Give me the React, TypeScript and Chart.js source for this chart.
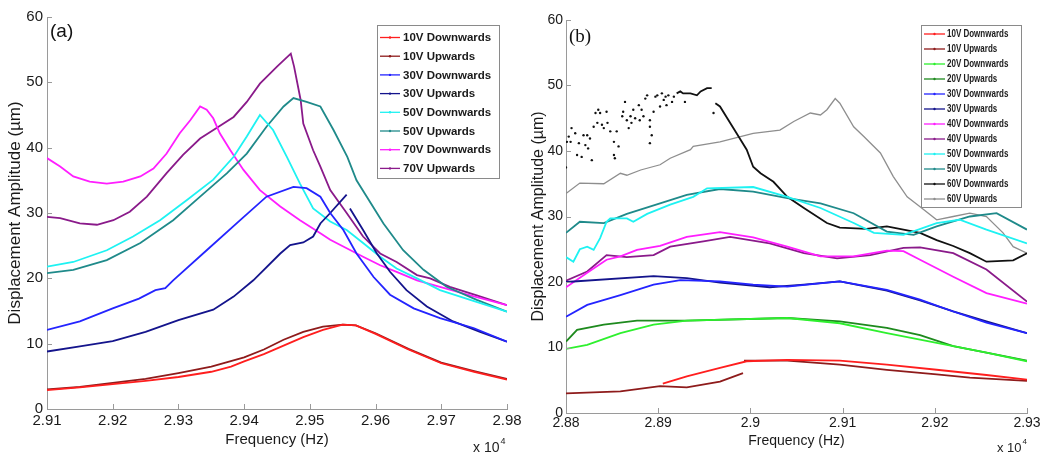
import React, { useEffect, useRef } from "react";
import { Chart, registerables } from "chart.js";

Chart.register(...registerables);

type Pt = [number, number | null];

// ---------------- Panel (a) data (frequency in units of 10^4 Hz, amplitude in µm) ----------------
const aXTicks = [2.91, 2.92, 2.93, 2.94, 2.95, 2.96, 2.97, 2.98];
const yTicks = [0, 10, 20, 30, 40, 50, 60];

const a10Down: Pt[] = [[2.91, 2.9], [2.915, 3.3], [2.92, 3.8], [2.925, 4.3], [2.93, 4.9], [2.935, 5.7], [2.938, 6.5], [2.94, 7.3], [2.943, 8.4], [2.946, 9.7], [2.949, 11.0], [2.952, 12.1], [2.955, 12.9], [2.957, 12.8], [2.96, 11.5], [2.965, 9.1], [2.97, 7.0], [2.975, 5.7], [2.98, 4.5]];
const a10Up: Pt[] = [[2.91, 3.0], [2.915, 3.4], [2.92, 4.0], [2.925, 4.6], [2.93, 5.5], [2.935, 6.5], [2.94, 7.9], [2.943, 9.1], [2.946, 10.6], [2.949, 11.8], [2.952, 12.6], [2.955, 12.9], [2.957, 12.8], [2.96, 11.6], [2.965, 9.2], [2.97, 7.1], [2.975, 5.8], [2.98, 4.6]];
const a30Down: Pt[] = [[2.91, 12.1], [2.915, 13.4], [2.92, 15.4], [2.924, 16.9], [2.9265, 18.2], [2.928, 18.5], [2.9292, 19.7], [2.9343, 24.3], [2.9394, 28.9], [2.9434, 32.5], [2.9475, 34.0], [2.9495, 33.8], [2.9516, 32.5], [2.9531, 30.0], [2.9551, 27.4], [2.9571, 23.8], [2.9597, 20.2], [2.9622, 17.5], [2.9658, 15.4], [2.9698, 13.9], [2.9749, 12.4], [2.98, 10.3]];
const a30Up: Pt[] = [[2.91, 8.8], [2.915, 9.6], [2.92, 10.4], [2.925, 11.8], [2.93, 13.6], [2.9353, 15.2], [2.9384, 17.2], [2.9414, 19.7], [2.9455, 23.8], [2.947, 25.1], [2.949, 25.5], [2.9505, 26.4], [2.9516, 28.4], [2.9531, 30.0], [2.9556, 32.8], [2.9559, null], [2.9561, 30.7], [2.9581, 27.4], [2.9602, 23.8], [2.9622, 21.0], [2.9647, 18.2], [2.9678, 15.7], [2.9718, 13.4], [2.9759, 11.8], [2.98, 10.3]];
const a50Down: Pt[] = [[2.91, 21.8], [2.914, 22.5], [2.9191, 24.3], [2.9231, 26.4], [2.9272, 28.9], [2.9313, 32.0], [2.9353, 35.1], [2.9384, 38.6], [2.9404, 41.7], [2.9424, 45.0], [2.9444, 42.7], [2.9465, 38.6], [2.9485, 34.5], [2.9505, 30.7], [2.9531, 28.7], [2.9556, 27.4], [2.9581, 25.4], [2.9607, 23.3], [2.9632, 21.5], [2.9663, 20.0], [2.9698, 18.2], [2.9744, 16.7], [2.98, 14.9]];
const a50Up: Pt[] = [[2.91, 20.8], [2.914, 21.3], [2.9191, 22.8], [2.9242, 25.4], [2.9292, 28.9], [2.9333, 32.5], [2.9374, 36.1], [2.9404, 39.1], [2.9434, 43.2], [2.946, 46.3], [2.9475, 47.6], [2.9495, 47.0], [2.9516, 46.3], [2.9536, 42.7], [2.9557, 38.6], [2.9571, 35.0], [2.9612, 28.4], [2.9642, 24.3], [2.9673, 21.3], [2.9708, 18.7], [2.9754, 16.7], [2.98, 14.9]];
const a70Down: Pt[] = [[2.91, 38.4], [2.912, 37.1], [2.914, 35.6], [2.9165, 34.8], [2.9191, 34.5], [2.9216, 34.8], [2.9242, 35.6], [2.9262, 36.8], [2.9282, 39.1], [2.9302, 42.2], [2.9318, 44.2], [2.9333, 46.3], [2.9343, 45.8], [2.9353, 44.5], [2.9363, 42.2], [2.9379, 39.6], [2.9399, 36.6], [2.9424, 33.5], [2.9455, 31.0], [2.9485, 28.9], [2.9516, 26.9], [2.9531, 25.9], [2.9556, 24.6], [2.9581, 23.3], [2.9607, 22.0], [2.9632, 21.0], [2.9663, 19.7], [2.9698, 18.7], [2.9744, 17.4], [2.98, 15.9]];
const a70Up: Pt[] = [[2.91, 29.4], [2.912, 29.2], [2.915, 28.4], [2.9176, 28.2], [2.9201, 28.9], [2.9226, 30.2], [2.9252, 32.5], [2.9282, 36.1], [2.9307, 38.9], [2.9333, 41.4], [2.9358, 43.0], [2.9384, 44.7], [2.9404, 47.0], [2.9424, 49.8], [2.945, 52.4], [2.9471, 54.4], [2.9476, 52.4], [2.9486, 47.3], [2.949, 43.7], [2.9505, 39.6], [2.9516, 37.1], [2.9531, 33.5], [2.9556, 30.0], [2.9581, 26.4], [2.9607, 23.8], [2.9632, 22.5], [2.9663, 20.5], [2.9683, 20.0], [2.9713, 18.7], [2.9754, 17.4], [2.98, 15.9]];

// ---------------- Panel (b) data ----------------
const bXTicks = [2.88, 2.89, 2.9, 2.91, 2.92, 2.93];

const b10Down: Pt[] = [[2.8905, 4.5], [2.8931, 5.6], [2.8967, 6.9], [2.8996, 7.9], [2.904, 8.1], [2.9097, 8.0], [2.9148, 7.4], [2.9202, 6.6], [2.9256, 5.8], [2.93, 5.1]];
const b10Up: Pt[] = [[2.88, 3.0], [2.8859, 3.3], [2.8902, 4.1], [2.8931, 3.9], [2.8967, 4.8], [2.8992, 6.1], [2.89925, null], [2.8993, 8.0], [2.904, 8.0], [2.9097, 7.4], [2.9148, 6.6], [2.9202, 5.9], [2.9238, 5.4], [2.93, 4.9]];
const b20Down: Pt[] = [[2.88, 9.8], [2.8823, 10.4], [2.8859, 12.2], [2.8895, 13.5], [2.8931, 14.1], [2.904, 14.5], [2.9097, 13.7], [2.9148, 12.2], [2.9202, 10.7], [2.9256, 9.2], [2.93, 7.9]];
const b20Up: Pt[] = [[2.88, 10.9], [2.8812, 12.7], [2.8841, 13.5], [2.8877, 14.1], [2.8931, 14.1], [2.904, 14.5], [2.9097, 14.0], [2.9148, 13.0], [2.9184, 11.9], [2.922, 10.2], [2.9256, 9.2], [2.93, 8.0]];
const b30Down: Pt[] = [[2.88, 14.7], [2.8823, 16.5], [2.8859, 18.0], [2.8895, 19.6], [2.8924, 20.3], [2.8967, 20.1], [2.9003, 19.6], [2.904, 19.3], [2.9097, 20.1], [2.9148, 18.8], [2.9184, 17.3], [2.922, 15.5], [2.9256, 13.8], [2.93, 12.2]];
const b30Up: Pt[] = [[2.88, 20.0], [2.8895, 20.9], [2.8931, 20.6], [2.8967, 19.9], [2.9021, 19.2], [2.9058, 19.6], [2.9097, 20.1], [2.9148, 18.7], [2.9184, 17.2], [2.922, 15.5], [2.9256, 14.0], [2.93, 12.2]];
const b40Down: Pt[] = [[2.88, 19.2], [2.8823, 21.4], [2.8844, 23.4], [2.8859, 23.9], [2.8877, 24.9], [2.8902, 25.5], [2.8931, 26.9], [2.8967, 27.6], [2.9003, 26.8], [2.904, 25.4], [2.9076, 23.9], [2.9112, 23.9], [2.9148, 24.8], [2.9166, 24.7], [2.9184, 23.4], [2.922, 20.8], [2.9256, 18.3], [2.93, 16.7]];
const b40Up: Pt[] = [[2.88, 20.2], [2.8823, 21.6], [2.8844, 24.1], [2.8866, 23.8], [2.8895, 24.1], [2.8913, 25.4], [2.8949, 26.2], [2.8978, 26.9], [2.9021, 25.9], [2.9058, 24.4], [2.9094, 23.6], [2.913, 24.1], [2.9166, 25.2], [2.9184, 25.3], [2.922, 24.4], [2.9256, 21.9], [2.93, 17.0]];
const b50Down: Pt[] = [[2.88, 23.8], [2.8808, 23.1], [2.8815, 25.0], [2.8823, 25.4], [2.883, 24.9], [2.8837, 26.7], [2.8844, 29.2], [2.8848, 29.7], [2.8866, 29.7], [2.8873, 29.2], [2.8888, 30.4], [2.8913, 31.8], [2.8938, 33.0], [2.8953, 34.3], [2.9003, 34.5], [2.904, 33.0], [2.9076, 31.3], [2.9112, 29.0], [2.9134, 27.5], [2.9166, 27.2], [2.9202, 29.0], [2.9227, 29.5], [2.9256, 28.0], [2.93, 25.9]];
const b50Up: Pt[] = [[2.88, 27.5], [2.8815, 29.2], [2.8841, 29.0], [2.8866, 30.4], [2.8902, 32.0], [2.8931, 33.3], [2.8967, 34.2], [2.9003, 33.8], [2.904, 32.8], [2.9076, 32.0], [2.9112, 30.5], [2.9148, 27.7], [2.9177, 27.2], [2.9202, 28.5], [2.9238, 30.0], [2.9267, 30.5], [2.93, 28.0]];
const b60DownDots: Pt[] = [[2.88, 37.5], [2.8801, 41.4], [2.8803, 42.2], [2.8805, 41.4], [2.8806, 43.5], [2.881, 42.7], [2.8812, 39.4], [2.8814, 41.2], [2.8817, 39.1], [2.8819, 42.4], [2.8821, 40.9], [2.8823, 42.4], [2.8824, 40.4], [2.8826, 41.9], [2.8828, 38.6], [2.883, 43.7], [2.8832, 45.8], [2.8834, 44.3], [2.8835, 46.3], [2.8837, 45.8], [2.8839, 44.0], [2.8841, 43.5], [2.8844, 46.0], [2.8845, 44.3], [2.8848, 43.0], [2.8852, 41.4], [2.8852, 39.4], [2.8853, 38.9], [2.8855, 43.0], [2.8857, 40.7], [2.8861, 45.3], [2.8862, 46.0], [2.8864, 47.5], [2.8866, 44.7], [2.8868, 43.5], [2.887, 45.3], [2.8871, 44.3], [2.8873, 46.3], [2.8875, 45.0], [2.8879, 47.0], [2.888, 44.7], [2.8882, 46.3], [2.8884, 45.3], [2.8886, 48.0], [2.8888, 48.5], [2.8891, 44.7], [2.8891, 43.7], [2.8891, 41.2], [2.8893, 42.4], [2.8895, 46.0], [2.8897, 48.3], [2.8899, 48.5], [2.8902, 46.8], [2.8904, 48.8], [2.8906, 47.8], [2.8908, 48.3], [2.8909, 47.0], [2.8911, 48.5], [2.8915, 47.5], [2.8917, 48.3], [2.8929, 47.5], [2.896, 45.8]];
const b60Down: Pt[] = [[2.892, 48.8], [2.8924, 49.1], [2.8927, 48.8], [2.8935, 48.8], [2.8942, 48.5], [2.8946, 49.1], [2.8953, 49.6], [2.8958, 49.6], [2.896, null], [2.8962, 47.3], [2.8967, 46.8], [2.8985, 42.7], [2.8996, 40.2], [2.9003, 37.6], [2.9011, 36.6], [2.9025, 35.3], [2.904, 33.0], [2.9058, 31.3], [2.9083, 29.0], [2.9097, 28.3], [2.9126, 28.1], [2.9148, 28.5], [2.9184, 27.5], [2.9202, 26.4], [2.922, 25.5], [2.9238, 24.4], [2.9256, 23.1], [2.9285, 23.3], [2.93, 24.4]];
const b60Up: Pt[] = [[2.88, 33.5], [2.8815, 35.1], [2.8841, 35.0], [2.8859, 36.6], [2.8866, 36.3], [2.8881, 37.1], [2.8902, 37.9], [2.8913, 38.9], [2.8935, 40.2], [2.8938, 40.7], [2.8967, 41.4], [2.9003, 42.7], [2.9032, 43.2], [2.9047, 44.5], [2.9065, 45.8], [2.9076, 45.5], [2.9083, 46.3], [2.9092, 48.0], [2.9097, 47.3], [2.9112, 43.7], [2.9123, 42.2], [2.9141, 39.7], [2.9155, 36.1], [2.917, 33.0], [2.9184, 31.5], [2.9202, 29.5], [2.922, 30.0], [2.9238, 30.5], [2.9256, 30.0], [2.9274, 27.5], [2.9285, 25.4], [2.93, 24.4]];

// ---------------- colours ----------------
const C = {
  red: "#ff1e1e",
  darkred: "#8e1b1b",
  green: "#2ef02e",
  darkgreen: "#1e8a1e",
  blue: "#2424ff",
  navy: "#14148c",
  magenta: "#ff1eff",
  purple: "#8a1a8a",
  cyan: "#1ef2f2",
  teal: "#1f8a8a",
  black: "#111111",
  grey: "#8e8e8e",
};

type Series = { label: string; color: string; data: Pt[]; width?: number };

const seriesA: Series[] = [
  { label: "10V Downwards", color: C.red, data: a10Down },
  { label: "10V Upwards", color: C.darkred, data: a10Up },
  { label: "30V Downwards", color: C.blue, data: a30Down },
  { label: "30V Upwards", color: C.navy, data: a30Up },
  { label: "50V Downwards", color: C.cyan, data: a50Down },
  { label: "50V Upwards", color: C.teal, data: a50Up },
  { label: "70V Downwards", color: C.magenta, data: a70Down },
  { label: "70V Upwards", color: C.purple, data: a70Up },
];

const seriesB: Series[] = [
  { label: "10V Downwards", color: C.red, data: b10Down },
  { label: "10V Upwards", color: C.darkred, data: b10Up },
  { label: "20V Downwards", color: C.green, data: b20Down },
  { label: "20V Upwards", color: C.darkgreen, data: b20Up },
  { label: "30V Downwards", color: C.blue, data: b30Down },
  { label: "30V Upwards", color: C.navy, data: b30Up },
  { label: "40V Downwards", color: C.magenta, data: b40Down },
  { label: "40V Upwards", color: C.purple, data: b40Up },
  { label: "50V Downwards", color: C.cyan, data: b50Down },
  { label: "50V Upwards", color: C.teal, data: b50Up },
  { label: "60V Downwards", color: C.black, data: b60Down },
  { label: "60V Upwards", color: C.grey, data: b60Up, width: 1.3 },
];

const SANS = "'Liberation Sans', Arial, Helvetica, sans-serif";
const SERIF = "'Liberation Serif', 'Times New Roman', serif";

const toXY = (arr: Pt[]) => arr.map(([x, y]) => ({ x, y }));

const decorPlugin = {
  id: "decor",
  afterDraw(chart: any, _args: any, o: any) {
    const ctx = chart.ctx as CanvasRenderingContext2D;
    const ca = chart.chartArea;
    const xs = chart.scales.x;
    const ys = chart.scales.y;
    ctx.save();
    // inward tick marks
    ctx.strokeStyle = "#9a9a9a";
    ctx.lineWidth = 1;
    ys.ticks.forEach((t: any) => {
      const py = Math.round(ys.getPixelForValue(t.value)) + 0.5;
      ctx.beginPath();
      ctx.moveTo(ca.left, py);
      ctx.lineTo(ca.left + 5, py);
      ctx.stroke();
    });
    xs.ticks.forEach((t: any) => {
      const px = Math.round(xs.getPixelForValue(t.value)) + 0.5;
      ctx.beginPath();
      ctx.moveTo(px, ca.bottom);
      ctx.lineTo(px, ca.bottom - 5);
      ctx.stroke();
    });
    // panel label
    ctx.fillStyle = "#111";
    ctx.textAlign = "left";
    ctx.textBaseline = "alphabetic";
    ctx.font = o.panelFont;
    ctx.fillText(o.panel, o.panelX, o.panelY);
    // x 10^4
    ctx.fillStyle = "#222";
    ctx.font = o.expFont;
    ctx.fillText("x 10", o.expX, o.expY);
    const w = ctx.measureText("x 10").width;
    ctx.font = o.supFont;
    ctx.fillText("4", o.expX + w + 1, o.expY - o.supRaise);
    // legend box
    const L = o.legend;
    ctx.fillStyle = "#ffffff";
    ctx.fillRect(L.x, L.y, L.w, L.h);
    ctx.strokeStyle = "#8a8a8a";
    ctx.lineWidth = 1;
    ctx.strokeRect(L.x + 0.5, L.y + 0.5, L.w, L.h);
    const items: Series[] = o.items;
    items.forEach((s, i) => {
      const yy = L.row0 + i * L.rowH;
      ctx.strokeStyle = s.color;
      ctx.lineWidth = 1.3;
      ctx.beginPath();
      ctx.moveTo(L.lineX0, yy);
      ctx.lineTo(L.lineX1, yy);
      ctx.stroke();
      ctx.fillStyle = s.color;
      ctx.beginPath();
      ctx.arc((L.lineX0 + L.lineX1) / 2, yy, 1.2, 0, Math.PI * 2);
      ctx.fill();
      ctx.fillStyle = "#1a1a1a";
      ctx.font = L.font;
      ctx.textBaseline = "middle";
      ctx.save();
      ctx.translate(L.textX, yy + 0.5);
      ctx.scale(L.squeeze, 1);
      ctx.fillText(s.label, 0, 0);
      ctx.restore();
    });
    ctx.restore();
  },
};

type PanelCfg = {
  series: Series[];
  extra: any[];
  xMin: number;
  xMax: number;
  ticks: number[];
  yAxisWidth: number;
  xAxisHeight: number;
  pad: { left: number; top: number; right: number; bottom: number };
  tickFont: number;
  yTitleFont: number;
  yTitlePad: number;
  xTitleFont: number;
  xTitlePad: number;
  yTickPad: number;
  xTickPad: number;
  decor: any;
};

function buildConfig(p: PanelCfg): any {
  const datasets: any[] = p.series.map((s) => ({
    label: s.label,
    data: toXY(s.data),
    borderColor: s.color,
    backgroundColor: s.color,
    borderWidth: s.width ?? 1.8,
    pointRadius: 0,
    fill: false,
    tension: 0,
    spanGaps: false,
  }));
  p.extra.forEach((d) => datasets.push(d));
  return {
    type: "line",
    data: { datasets },
    plugins: [decorPlugin],
    options: {
      responsive: false,
      animation: false,
      events: [],
      layout: { padding: p.pad },
      plugins: {
        legend: { display: false },
        tooltip: { enabled: false },
        title: { display: false },
        decor: { ...p.decor, items: p.series },
      },
      scales: {
        x: {
          type: "linear",
          min: p.xMin,
          max: p.xMax,
          afterFit: (s: any) => {
            s.height = p.xAxisHeight;
          },
          afterBuildTicks: (s: any) => {
            s.ticks = p.ticks.map((v) => ({ value: v }));
          },
          grid: { display: true, drawOnChartArea: false, drawTicks: false },
          border: { display: true, color: "#9a9a9a", width: 1 },
          ticks: {
            autoSkip: false,
            maxRotation: 0,
            padding: p.xTickPad,
            color: "#1a1a1a",
            font: { family: SANS, size: p.tickFont },
            callback: (v: any) => String(Number(Number(v).toFixed(2))),
          },
          title: {
            display: true,
            text: "Frequency (Hz)",
            color: "#1a1a1a",
            font: { family: SANS, size: p.xTitleFont },
            padding: { top: 0, bottom: p.xTitlePad },
          },
        },
        y: {
          type: "linear",
          min: 0,
          max: 60,
          afterFit: (s: any) => {
            s.width = p.yAxisWidth;
          },
          afterBuildTicks: (s: any) => {
            s.ticks = yTicks.map((v) => ({ value: v }));
          },
          grid: { display: true, drawOnChartArea: false, drawTicks: false },
          border: { display: true, color: "#9a9a9a", width: 1 },
          ticks: {
            padding: p.yTickPad,
            color: "#1a1a1a",
            font: { family: SANS, size: p.tickFont },
          },
          title: {
            display: true,
            text: "Displacement Amplitude (µm)",
            color: "#1a1a1a",
            font: { family: SANS, size: p.yTitleFont },
            padding: { top: p.yTitlePad, bottom: 0 },
          },
        },
      },
    },
  };
}

export default function App() {
  const refA = useRef<HTMLCanvasElement | null>(null);
  const refB = useRef<HTMLCanvasElement | null>(null);

  useEffect(() => {
    const cfgA = buildConfig({
      series: seriesA,
      extra: [],
      xMin: 2.91,
      xMax: 2.98,
      ticks: aXTicks,
      yAxisWidth: 47,
      xAxisHeight: 44,
      pad: { left: 0, top: 17, right: 33, bottom: 0 },
      tickFont: 15,
      yTitleFont: 17,
      yTitlePad: 5,
      xTitleFont: 15,
      xTitlePad: 4,
      yTickPad: 4,
      xTickPad: 3,
      decor: {
        panel: "(a)",
        panelFont: `19px ${SANS}`,
        panelX: 50,
        panelY: 37,
        expFont: `14px ${SANS}`,
        supFont: `9px ${SANS}`,
        expX: 473,
        expY: 452,
        supRaise: 8,
        legend: {
          x: 377,
          y: 25,
          w: 122,
          h: 153,
          row0: 37.5,
          rowH: 18.7,
          lineX0: 380,
          lineX1: 400,
          textX: 403,
          font: `bold 11.5px ${SANS}`,
          squeeze: 1,
        },
      },
    });

    const cfgB = buildConfig({
      series: seriesB,
      extra: [
        {
          label: "60V Downwards scatter",
          data: toXY(b60DownDots),
          showLine: false,
          borderColor: C.black,
          backgroundColor: C.black,
          borderWidth: 0,
          pointRadius: 1.2,
        },
      ],
      xMin: 2.88,
      xMax: 2.93,
      ticks: bXTicks,
      yAxisWidth: 46,
      xAxisHeight: 40,
      pad: { left: 0, top: 20, right: 22, bottom: 0 },
      tickFont: 14,
      yTitleFont: 16,
      yTitlePad: 9,
      xTitleFont: 14,
      xTitlePad: 3,
      yTickPad: 3,
      xTickPad: 2,
      decor: {
        panel: "(b)",
        panelFont: `19px ${SERIF}`,
        panelX: 49,
        panelY: 42,
        expFont: `13px ${SANS}`,
        supFont: `8px ${SANS}`,
        expX: 477,
        expY: 452,
        supRaise: 8,
        legend: {
          x: 401,
          y: 25,
          w: 100,
          h: 182,
          row0: 34,
          rowH: 15,
          lineX0: 404,
          lineX1: 425,
          textX: 427,
          font: `bold 10px ${SANS}`,
          squeeze: 0.8,
        },
      },
    });

    const chartA = refA.current ? new Chart(refA.current, cfgA) : null;
    const chartB = refB.current ? new Chart(refB.current, cfgB) : null;
    return () => {
      chartA?.destroy();
      chartB?.destroy();
    };
  }, []);

  return (
    <div
      style={{
        position: "absolute",
        left: 0,
        top: 0,
        width: 1049,
        height: 453,
        background: "#ffffff",
        overflow: "hidden",
      }}
    >
      <canvas
        ref={refA}
        width={540}
        height={453}
        style={{ position: "absolute", left: 0, top: 0, width: 540, height: 453 }}
      />
      <canvas
        ref={refB}
        width={529}
        height={453}
        style={{ position: "absolute", left: 520, top: 0, width: 529, height: 453 }}
      />
    </div>
  );
}
